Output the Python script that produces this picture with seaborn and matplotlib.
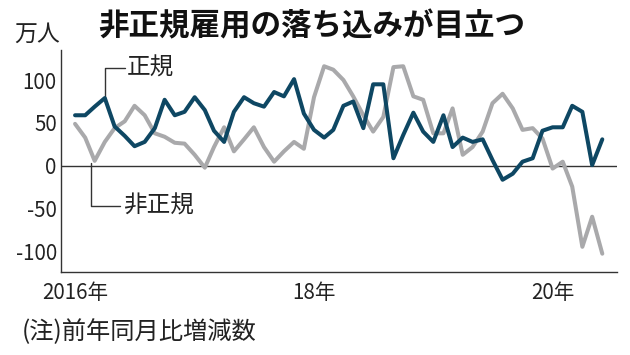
import numpy as np
import pandas as pd
import matplotlib
matplotlib.use('Agg')
import matplotlib.pyplot as plt
import matplotlib.dates as mdates
from matplotlib.ticker import FixedLocator
import seaborn as sns

# ---------------- data ----------------
months = pd.date_range('2016-01-01', periods=54, freq='MS')
regular = [59, 59, 69, 79, 46, 35, 23, 28, 44, 77,
           59, 63, 80, 65, 41, 28, 63, 80, 73, 69,
           86, 81, 101, 61, 42, 33, 42, 70, 75, 44,
           95, 95, 9, 36, 62, 40, 28, 59, 22, 33,
           28, 31, 7, -16, -9, 5, 9, 41, 45, 45,
           70, 63, 1, 31]
nonregular = [49, 33, 6, 28, 44, 52, 70, 59, 38, 34,
              27, 26, 13, -2, 22, 45, 17, 31, 45, 22,
              5, 17, 28, 20, 80, 116, 112, 100, 81, 59,
              40, 57, 115, 116, 81, 77, 38, 38, 67, 13,
              22, 40, 73, 84, 67, 42, 44, 32, -3, 5,
              -24, -94, -59, -102]
series_names = ['正規', '非正規']
year_ticks = ['2016-01-01', '2018-01-01', '2020-01-01']
year_labels = ['2016年', '18年', '20年']
y_ticks = [-100, -50, 0, 50, 100]
y_labels = ['-100', '-50', '0', '50', '100']
title = '非正規雇用の落ち込みが目立つ'
unit = '万人'
note = '(注)前年同月比増減数'

df = pd.DataFrame({
    'month': list(months) * 2,
    'value': regular + nonregular,
    'series': [series_names[0]] * len(regular) + [series_names[1]] * len(nonregular),
})

# ---------------- style ----------------
sns.set_theme(style='white')
plt.rcParams['font.family'] = ['Noto Sans CJK JP', 'DejaVu Sans']
plt.rcParams['axes.unicode_minus'] = False

DARK = '#0e4763'
GRAY = '#a9a9ab'
AX = '#333333'
TXT = '#222222'

fig = plt.figure(figsize=(6.3, 3.55), dpi=100)
ax = fig.add_axes([61 / 630, 1 - 272 / 355, (617 - 61) / 630, (272 - 50) / 355])

ax.axhline(0, color=AX, lw=1.0, zorder=1)
sns.lineplot(data=df, x='month', y='value', hue='series',
             hue_order=[series_names[1], series_names[0]],
             palette={series_names[0]: DARK, series_names[1]: GRAY},
             linewidth=2.9, legend=False, ax=ax, zorder=3)

ax.set_xlim(pd.Timestamp('2015-11-19'), pd.Timestamp('2020-07-16'))
ax.set_ylim(-123.3, 134.9)

for s in ['top', 'right']:
    ax.spines[s].set_visible(False)
for s in ['left', 'bottom']:
    ax.spines[s].set_color(AX)
    ax.spines[s].set_linewidth(1.0)

ax.xaxis.set_major_locator(FixedLocator(mdates.date2num(pd.to_datetime(year_ticks))))
ax.set_xticklabels(year_labels)
ax.xaxis.set_minor_locator(mdates.MonthLocator())
ax.tick_params(axis='x', which='both', direction='in', length=2.4, width=0.8,
               color=AX, labelsize=14.8, labelcolor=TXT, pad=7)
ax.set_yticks(y_ticks)
ax.set_yticklabels(y_labels)
ax.tick_params(axis='y', direction='in', length=3.6, width=0.8, color=AX,
               labelsize=14.8, labelcolor=TXT, pad=3)
ax.set_xlabel('')
ax.set_ylabel('')

# leader lines and labels
m = mdates.date2num(months)
x_reg = m[3]
x_lab_reg = m[5] + 0.2 * (m[6] - m[5])
ax.plot([x_reg, x_reg, m[5]], [regular[3], 114, 114], color=AX, lw=1.0, zorder=2)
ax.text(x_lab_reg, 114, series_names[0], fontsize=17, color=TXT, va='center', ha='left')

x_non = m[1] + 0.58 * (m[2] - m[1])
ax.plot([x_non, x_non, m[4] + 0.5 * (m[5] - m[4])], [4, -47, -47], color=AX, lw=1.0, zorder=2)
ax.text(m[4] + 0.8 * (m[5] - m[4]), -47, series_names[1], fontsize=17, color=TXT,
        va='center', ha='left')

fig.text(98 / 630, 1 - 26 / 355, title, fontsize=22, fontweight='bold', color='#111111',
         va='center', ha='left')
fig.text(14 / 630, 1 - 34 / 355, unit, fontsize=16.5, color=TXT, va='center', ha='left')
fig.text(22 / 630, 1 - 332 / 355, note, fontsize=17.5, color=TXT, va='center', ha='left')

fig.savefig('out.png', dpi=100, facecolor='white')
